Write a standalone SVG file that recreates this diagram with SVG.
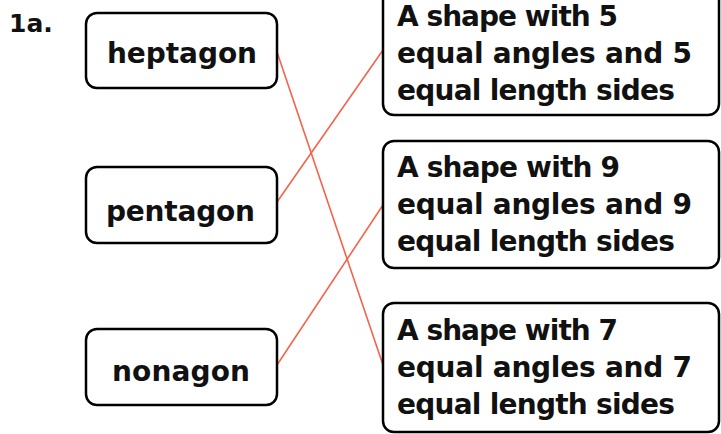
<svg xmlns="http://www.w3.org/2000/svg" width="721" height="434" viewBox="0 0 721 434">
<style>
.box{fill:#fff;stroke:#000;stroke-width:2.5}
.t{font-family:"DejaVu Sans","Liberation Sans",sans-serif;font-weight:bold;font-size:28px;fill:#111}
.c{stroke:#f2644c;stroke-width:1.6;fill:none}
</style>
<rect width="721" height="434" fill="#fff"/>
<text class="t" x="9" y="32" style="font-size:25px">1a.</text>
<g id="connectors">
<line class="c" x1="277" y1="52" x2="383" y2="365"/>
<line class="c" x1="277" y1="202" x2="383" y2="50"/>
<line class="c" x1="277" y1="365" x2="383" y2="205"/>
</g>
<g id="heptagon">
<rect class="box" x="86" y="13" width="191" height="75" rx="11"/>
<text class="t" x="107" y="63" textLength="150">heptagon</text>
</g>
<g id="pentagon">
<rect class="box" x="86" y="167" width="191" height="76" rx="11"/>
<text class="t" x="106" y="221" textLength="149">pentagon</text>
</g>
<g id="nonagon">
<rect class="box" x="86" y="329" width="191" height="76" rx="11"/>
<text class="t" x="112" y="381" textLength="138">nonagon</text>
</g>
<g id="def5">
<rect class="box" x="383" y="-20" width="336" height="135" rx="11"/>
<text class="t" x="397" y="26" textLength="221">A shape with 5</text>
<text class="t" x="397" y="63" textLength="295">equal angles and 5</text>
<text class="t" x="397" y="100" textLength="278">equal length sides</text>
</g>
<g id="def9">
<rect class="box" x="383" y="141" width="336" height="127" rx="11"/>
<text class="t" x="397" y="177" textLength="223">A shape with 9</text>
<text class="t" x="397" y="214" textLength="295">equal angles and 9</text>
<text class="t" x="397" y="251" textLength="278">equal length sides</text>
</g>
<g id="def7">
<rect class="box" x="383" y="303" width="336" height="129" rx="11"/>
<text class="t" x="397" y="340" textLength="221">A shape with 7</text>
<text class="t" x="397" y="377" textLength="295">equal angles and 7</text>
<text class="t" x="397" y="414" textLength="278">equal length sides</text>
</g>
</svg>
